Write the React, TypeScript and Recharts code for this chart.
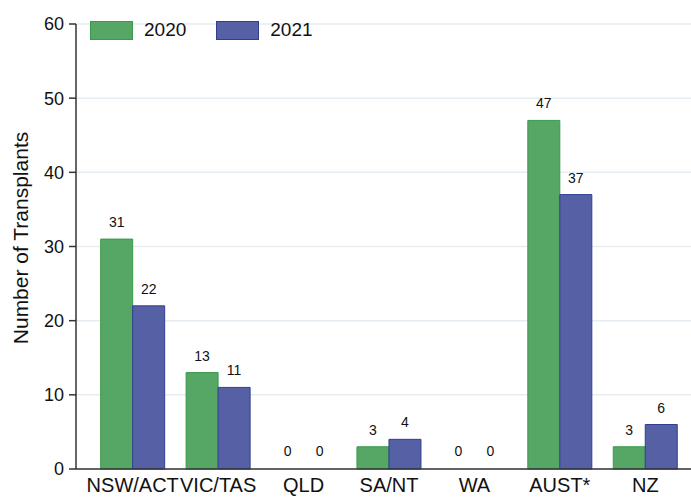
import React from 'react';
import {
  BarChart,
  Bar,
  XAxis,
  YAxis,
  CartesianGrid,
  LabelList,
  Rectangle,
} from 'recharts';

const regions = ['NSW/ACT', 'VIC/TAS', 'QLD', 'SA/NT', 'WA', 'AUST*', 'NZ'];
const transplants2020 = [31, 13, 0, 3, 0, 47, 3];
const transplants2021 = [22, 11, 0, 4, 0, 37, 6];
const yTicks = [0, 10, 20, 30, 40, 50, 60];

const data = regions.map((region, i) => ({
  region,
  y2020: transplants2020[i],
  y2021: transplants2021[i],
}));

const FONT = 'Arial, "Liberation Sans", Helvetica, sans-serif';
const GREEN = '#56a765';
const GREEN_EDGE = '#3a9a4a';
const BLUE = '#5560a5';
const BLUE_EDGE = '#303f93';

// zero-valued bars get a 1px min size so their labels render; hide the bar itself
const BarShape = (props: any) => {
  if (!props.value) return null;
  return <Rectangle {...props} />;
};

const YLabel = ({ viewBox }: any) => {
  const cy = 238;
  return (
    <text
      x={28}
      y={cy}
      transform={`rotate(-90, 28, ${cy})`}
      textAnchor="middle"
      fill="#111"
      fontSize={21}
      fontFamily={FONT}
    >
      Number of Transplants
    </text>
  );
};

export default function App() {
  return (
    <div style={{ position: 'absolute', left: 0, top: 0, width: 691, height: 502, background: '#fff', fontFamily: FONT }}>
      <BarChart
        width={691}
        height={502}
        data={data}
        margin={{ top: 24, right: 0, bottom: 0, left: 0 }}
        barCategoryGap="12.5%"
        barGap={0}
      >
        <CartesianGrid vertical={false} stroke="#e6edf2" strokeWidth={1.5} />
        <XAxis
          dataKey="region"
          interval={0}
          height={33}
          padding={{ left: 14, right: 3 }}
          tickLine={false}
          axisLine={{ stroke: '#333', strokeWidth: 1.5 }}
          tick={{ fill: '#111', fontSize: 20, fontFamily: FONT }}
          tickMargin={3}
        />
        <YAxis
          width={76}
          domain={[0, 60]}
          ticks={yTicks}
          interval={0}
          tickSize={7}
          tickLine={{ stroke: '#333', strokeWidth: 1.5 }}
          axisLine={{ stroke: '#333', strokeWidth: 1.5 }}
          tick={{ fill: '#111', fontSize: 18, fontFamily: FONT }}
          tickMargin={5}
          label={<YLabel />}
        />
        <Bar
          dataKey="y2020"
          name="2020"
          fill={GREEN}
          stroke={GREEN_EDGE}
          strokeWidth={1}
          minPointSize={1}
          shape={<BarShape />}
          isAnimationActive={false}
        >
          <LabelList dataKey="y2020" position="top" offset={12} style={{ fill: '#111', fontSize: 14, fontFamily: FONT }} />
        </Bar>
        <Bar
          dataKey="y2021"
          name="2021"
          fill={BLUE}
          stroke={BLUE_EDGE}
          strokeWidth={1}
          minPointSize={1}
          shape={<BarShape />}
          isAnimationActive={false}
        >
          <LabelList dataKey="y2021" position="top" offset={12} style={{ fill: '#111', fontSize: 14, fontFamily: FONT }} />
        </Bar>
      </BarChart>
      {/* legend sits inside the plot, top-left */}
      <div
        style={{
          position: 'absolute',
          left: 90,
          top: 19,
          display: 'flex',
          alignItems: 'center',
          fontSize: 19,
          color: '#111',
          lineHeight: '22px',
        }}
      >
        <span style={{ width: 41, height: 17, background: GREEN, border: `1px solid ${GREEN_EDGE}`, display: 'inline-block' }} />
        <span style={{ marginLeft: 11, marginRight: 30 }}>2020</span>
        <span style={{ width: 41, height: 17, background: BLUE, border: `1px solid ${BLUE_EDGE}`, display: 'inline-block' }} />
        <span style={{ marginLeft: 11 }}>2021</span>
      </div>
    </div>
  );
}
